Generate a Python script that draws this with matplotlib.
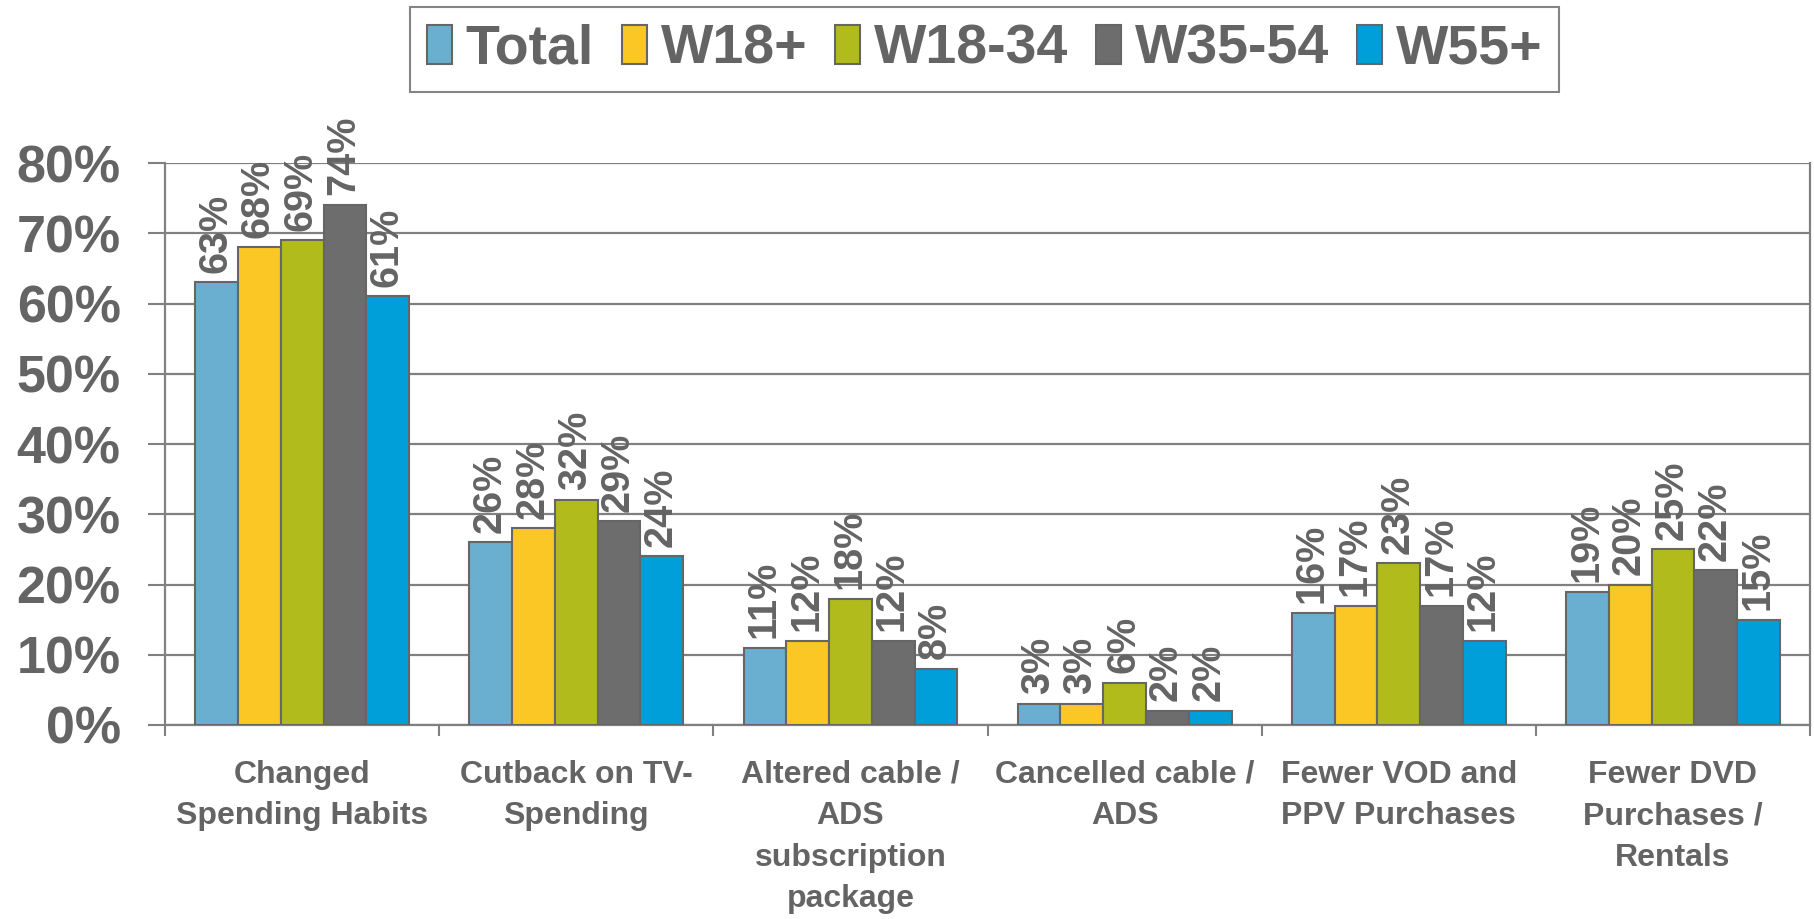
import matplotlib
matplotlib.use("Agg")
import matplotlib.pyplot as plt
import numpy as np

categories = ["Changed\nSpending Habits", "Cutback on TV-\nSpending",
              "Altered cable /\nADS\nsubscription\npackage",
              "Cancelled cable /\nADS", "Fewer VOD and\nPPV Purchases",
              "Fewer DVD\nPurchases /\nRentals"]
series_names = ["Total", "W18+", "W18-34", "W35-54", "W55+"]
total = [63, 26, 11, 3, 16, 19]
w18p = [68, 28, 12, 3, 17, 20]
w1834 = [69, 32, 18, 6, 23, 25]
w3554 = [74, 29, 12, 2, 17, 22]
w55p = [61, 24, 8, 2, 12, 15]
series_values = [total, w18p, w1834, w3554, w55p]
colors = ["#6AAFD0", "#FBC725", "#B1BC1C", "#6D6D6D", "#009FD9"]
ytick_vals = [0, 10, 20, 30, 40, 50, 60, 70, 80]
ytick_labels = ["0%", "10%", "20%", "30%", "40%", "50%", "60%", "70%", "80%"]

TXT = "#646464"
GRID = "#808080"
plt.rcParams['font.family'] = ['Liberation Sans', 'DejaVu Sans']
plt.rcParams['font.weight'] = 'bold'

fig = plt.figure(figsize=(18.14, 9.19), dpi=100)
ax = fig.add_axes([0.0910, 0.2111, 0.9068, 0.6115])

n = len(series_values)
bw = 0.156
x = np.arange(len(categories))
for i, (name, vals, c) in enumerate(zip(series_names, series_values, colors)):
    pos = x + (i - (n - 1) / 2) * bw
    ax.bar(pos, vals, width=bw, color=c, edgecolor="#666666",
           linewidth=1.5, label=name, zorder=3)
    for p, v in zip(pos, vals):
        ax.annotate(f"{v}%", (p, v), xytext=(-1, 7), textcoords="offset points",
                    rotation=90, ha="center", va="bottom", fontsize=28.5,
                    fontweight="bold", color=TXT, zorder=4)

ax.set_xlim(-0.5, len(categories) - 0.5)
ax.set_ylim(0, 80)
ax.set_yticks(ytick_vals)
ax.set_yticklabels(ytick_labels, fontsize=37.5, fontweight="bold", color=TXT)
ax.tick_params(axis="y", direction="out", length=12, width=1.5, color=GRID, pad=20)
ax.yaxis.grid(True, color=GRID, linewidth=1.6, zorder=0)
ax.set_axisbelow(True)

ax.set_xticks(x)
ax.set_xticklabels(categories, fontsize=23, fontweight="bold", color=TXT,
                   linespacing=1.5, va="top")
ax.tick_params(axis="x", length=0, pad=25)
ax.set_xticks(np.arange(-0.5, len(categories)), minor=True)
ax.tick_params(axis="x", which="minor", direction="out", length=8, width=1.5, color=GRID)

ax.spines["top"].set_visible(False)
for s in ["left", "right", "bottom"]:
    ax.spines[s].set_color(GRID)
    ax.spines[s].set_linewidth(1.6)

leg = fig.legend(loc="upper center", bbox_to_anchor=(0.5427, 0.9924), ncol=5,
                 fontsize=40, frameon=True, fancybox=False, edgecolor="#666666",
                 handlelength=0.45, handleheight=0.7, handletextpad=0.25,
                 columnspacing=0.5, borderpad=0.3, borderaxespad=0)
leg.get_frame().set_linewidth(1.5)
for t in leg.get_texts():
    t.set_color(TXT)
    t.set_fontweight("bold")

fig.savefig("out.png", dpi=100)
